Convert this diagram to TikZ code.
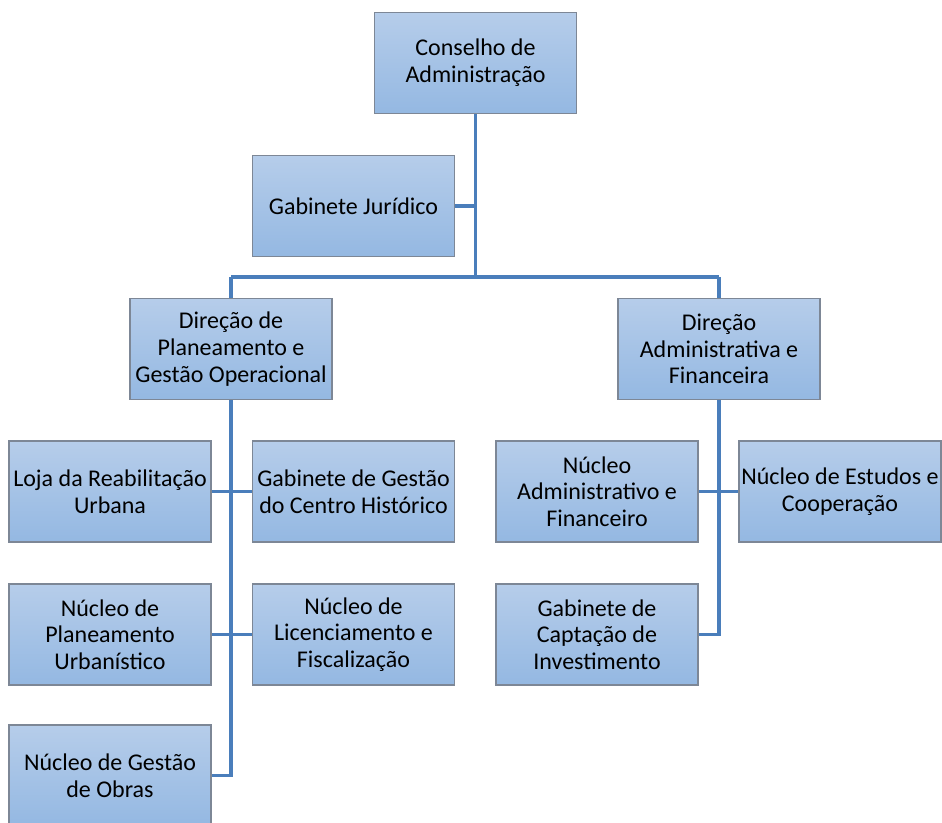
\documentclass[tikz,border=0pt]{standalone}
\usepackage{fontspec}
\setmainfont{Carlito}
\usetikzlibrary{backgrounds}
\definecolor{boxtop}{RGB}{182,205,234}
\definecolor{boxbot}{RGB}{148,184,226}
\definecolor{boxline}{RGB}{125,135,150}
\definecolor{connline}{RGB}{74,126,187}
\tikzset{
  orgbox/.style={rectangle, top color=boxtop, bottom color=boxbot, draw=boxline, line width=0.9pt,
    minimum width=151.5pt, minimum height=75.75pt, inner sep=0pt, align=center,
    font=\fontsize{18pt}{20pt}\selectfont, text=black},
  conn/.style={draw=connline, line width=2.3pt}
}
\begin{document}
\begin{tikzpicture}[x=0.75pt,y=-0.75pt]
\useasboundingbox (0,0) rectangle (942,823);
\node[orgbox] (cons) at (475.5,63) {Conselho de\\Administração};
\node[orgbox] (gab) at (353.5,206) {Gabinete Jurídico};
\node[orgbox] (dpl) at (231,349) {Direção de\\Planeamento e\\Gestão Operacional};
\node[orgbox] (dadm) at (719,349) {Direção\\Administrativa e\\Financeira};
\node[orgbox] (loja) at (110,491.5) {Loja da Reabilitação\\Urbana};
\node[orgbox] (ggch) at (353.5,491.5) {Gabinete de Gestão\\do Centro Histórico};
\node[orgbox] (npu) at (110,634.5) {Núcleo de\\Planeamento\\Urbanístico};
\node[orgbox] (nlf) at (353.5,634.5) {Núcleo de\\Licenciamento e\\Fiscalização};
\node[orgbox] (ngo) at (110,775.5) {Núcleo de Gestão\\de Obras};
\node[orgbox] (naf) at (597,491.5) {Núcleo\\Administrativo e\\Financeiro};
\node[orgbox] (nec) at (840,491.5) {Núcleo de Estudos e\\Cooperação};
\node[orgbox] (gci) at (597,634.5) {Gabinete de\\Captação de\\Investimento};
\coordinate (j1) at (475.5,277);
\coordinate (jL) at (231,277);
\coordinate (jR) at (719,277);
\begin{scope}[on background layer]
\draw[conn] (cons.south) -- (j1);
\draw[conn] (gab.east) -- (gab.east -| j1);
\draw[conn] (jL) -- (jR);
\draw[conn] (jL) -- (dpl.north);
\draw[conn] (jR) -- (dadm.north);
\draw[conn] (dpl.south) |- (ngo.east);
\draw[conn] (loja.east) -- (ggch.west);
\draw[conn] (npu.east) -- (nlf.west);
\draw[conn] (dadm.south) |- (gci.east);
\draw[conn] (naf.east) -- (nec.west);
\end{scope}
\end{tikzpicture}
\end{document}
